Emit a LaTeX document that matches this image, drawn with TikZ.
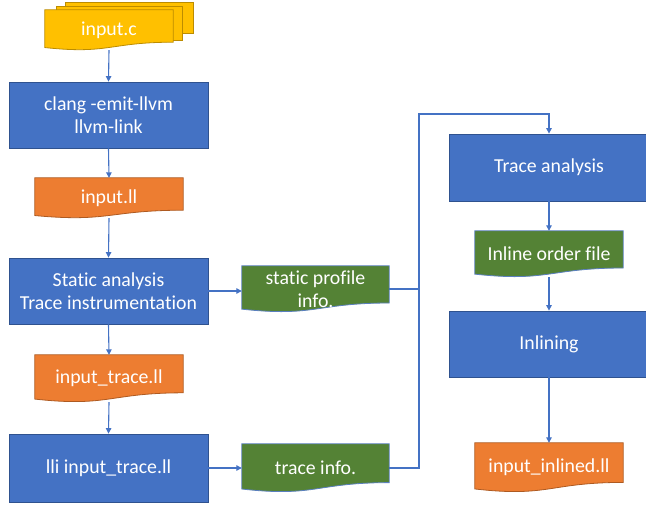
\documentclass[tikz,border=0pt]{standalone}
\usepackage{fontspec}
\setmainfont{Carlito}[Ligatures={NoCommon}]
\usetikzlibrary{calc,backgrounds,arrows.meta}
\definecolor{bblue}{HTML}{4472C4}
\definecolor{bblueD}{HTML}{2F528F}
\definecolor{orng}{HTML}{ED7D31}
\definecolor{orngD}{HTML}{AE5A21}
\definecolor{grn}{HTML}{548235}
\definecolor{grnD}{HTML}{5A7FBE}
\definecolor{ylw}{HTML}{FFC000}
\definecolor{ylwD}{HTML}{BC8C00}
\newcommand\docbg[3]{%
  \path[fill=#2,draw=#3,line width=0.8pt] (#1.north west) -- (#1.north east)
    -- ($(#1.north east)!0.802!(#1.south east)$)
    .. controls ($(#1.north)!0.802!(#1.south)$) and ($(#1.north)!1.107!(#1.south)$)
    .. ($(#1.north west)!0.934!(#1.south west)$) -- cycle;}
\tikzset{
  txt/.style={text=white,font=\fontsize{19.8}{23.5}\selectfont,align=center,inner sep=0pt},
  procbox/.style={txt,rectangle,fill=bblue,draw=bblueD,line width=0.8pt},
  docnode/.style={txt,rectangle,draw=none},
  conn/.style={draw=bblue,line width=1.1pt},
  arr/.style={conn,-{Triangle[length=5.5pt,width=5.5pt]}}
}
\begin{document}
\begin{tikzpicture}[x=1pt,y=-1pt]
\useasboundingbox (0,0) rectangle (646,504);
% process boxes
\node[procbox,minimum width=199pt,minimum height=66pt] (clang) at (108.5,115) {clang -emit-llvm\\llvm-link};
\node[procbox,minimum width=199pt,minimum height=66pt] (stat) at (108.5,291) {Static analysis\\Trace instrumentation};
\node[procbox,minimum width=199pt,minimum height=68pt] (lli) at (108.5,468) {lli input\_trace.ll};
\node[procbox,minimum width=200pt,minimum height=67pt] (tra) at (549,167.5) {Trace analysis};
\node[procbox,minimum width=200pt,minimum height=66pt] (inl) at (549,344) {Inlining};
% document nodes
\node[docnode,minimum width=128pt,minimum height=40pt] (inc) at (109,30) {input.c};
\node[docnode,minimum width=148pt,minimum height=40pt] (inll) at (109,198) {input.ll};
\node[docnode,minimum width=148pt,minimum height=47pt] (itr) at (109,378.5) {input\_trace.ll};
\node[docnode,minimum width=147pt,minimum height=46pt] (sprof) at (315.5,289) {static profile\\info.};
\node[docnode,minimum width=147pt,minimum height=48pt] (tinfo) at (315.5,468) {trace info.};
\node[docnode,minimum width=148pt,minimum height=46pt] (iof) at (549,254) {Inline order file};
\node[docnode,minimum width=148pt,minimum height=49pt] (iinl) at (549,467.5) {input\_inlined.ll};
\begin{pgfonlayer}{background}
  \path[fill=ylw,draw=ylwD,line width=0.8pt] (65,2) rectangle (193,33);
  \path[fill=ylw,draw=ylwD,line width=0.8pt] (56,6) rectangle (182,40);
  \docbg{inc}{ylw}{ylwD}
  \docbg{inll}{orng}{orngD}
  \docbg{itr}{orng}{orngD}
  \docbg{sprof}{grn}{grnD}
  \docbg{tinfo}{grn}{grnD}
  \docbg{iof}{grn}{grnD}
  \docbg{iinl}{orng}{orngD}
\end{pgfonlayer}
% connectors
\coordinate (j) at (419,114);
\draw[arr] (inc.south) -- (clang.north);
\draw[arr] (clang.south) -- (inll.north);
\draw[arr] (inll.south) -- (stat.north);
\draw[arr] (stat.east) -- (stat.east -| sprof.west);
\draw[arr] (stat.south) -- (itr.north);
\draw[arr] (itr.south) -- (lli.north);
\draw[arr] (lli.east) -- (lli.east -| tinfo.west);
\draw[conn] (sprof.east) -- (sprof.east -| j);
\draw[arr] (tinfo.east) -| (j) -| (tra.north);
\draw[arr] (tra.south) -- (iof.north);
\draw[arr] (iof.south) -- (inl.north);
\draw[arr] (inl.south) -- (iinl.north);
\end{tikzpicture}
\end{document}
